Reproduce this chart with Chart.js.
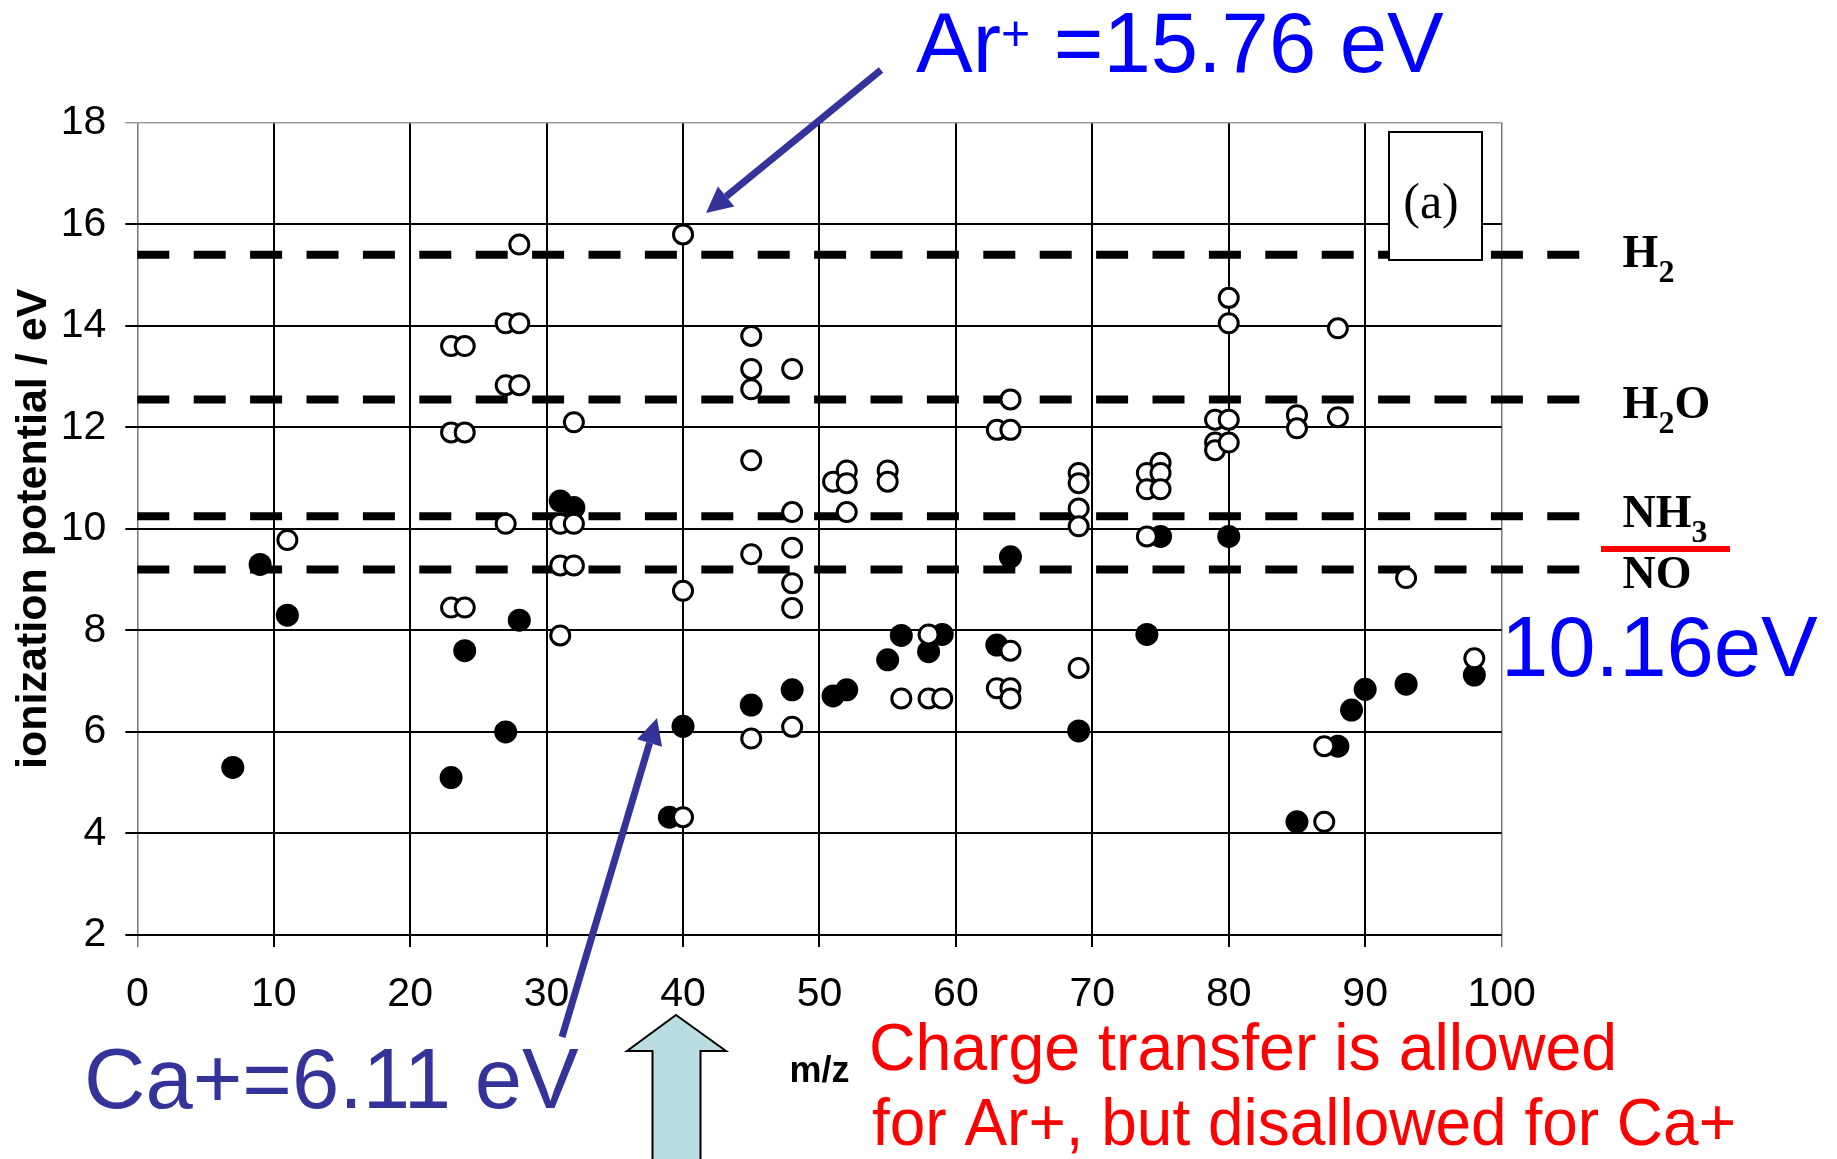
<!DOCTYPE html>
<html>
<head>
<meta charset="utf-8">
<title>Ionization potential vs m/z</title>
<script src="https://cdn.jsdelivr.net/npm/chart.js@4.4.1/dist/chart.umd.min.js"></script>
<style>
  html, body { margin: 0; padding: 0; background: #fff; }
  #wrap { width: 1837px; height: 1159px; position: relative; }
</style>
</head>
<body>
<div id="wrap"><canvas id="myChart"></canvas></div>
<script>
const SANS = "'Liberation Sans', Arial, Helvetica, sans-serif";
const SERIF = "'Liberation Serif', 'Times New Roman', serif";

// ------------------------------------------------------------------
// DATA
// filled circles: elements
const elementMz = [7, 9, 11, 23, 24, 27, 28, 31, 32, 39, 40, 45, 48, 51, 52, 55, 56, 58, 59,
  63, 64, 69, 74, 75, 80, 85, 88, 89, 90, 93, 98];
const elementIP = [5.3, 9.3, 8.3, 5.1, 7.6, 6.0, 8.2, 10.55, 10.42, 4.32, 6.11, 6.53, 6.83, 6.71, 6.83,
  7.42, 7.9, 7.58, 7.92, 7.71, 9.45, 6.02, 7.92, 9.85, 9.85, 4.23, 5.72, 6.43, 6.84, 6.94, 7.12];

// open circles: interfering ions
const openMz = [11,
  23, 23, 23, 24, 24, 24,
  27, 27, 27, 28, 28, 28,
  31, 31, 31, 32, 32, 32,
  40, 40, 40,
  45, 45, 45, 45, 45, 45,
  48, 48, 48, 48, 48, 48,
  51, 52, 52, 52, 55, 55, 56, 58, 58, 59,
  63, 63, 64, 64, 64, 64, 64,
  69, 69, 69, 69, 69,
  74, 74, 74, 75, 75, 75,
  79, 79, 79, 80, 80, 80, 80,
  85, 85, 87, 87, 88, 88, 93, 98];
const openIP = [9.78,
  13.6, 11.9, 8.45, 13.6, 11.9, 8.45,
  14.05, 12.83, 10.1, 15.6, 14.05, 12.83,
  10.1, 9.28, 7.9, 12.1, 10.1, 9.28,
  15.8, 8.78, 4.32,
  13.8, 13.15, 12.75, 11.35, 9.5, 5.87,
  13.15, 10.33, 9.63, 8.93, 8.44, 6.1,
  10.93, 11.15, 10.9, 10.33, 11.15, 10.93, 6.66, 7.92, 6.66, 6.66,
  11.95, 6.86, 12.55, 11.95, 7.6, 6.86, 6.66,
  11.1, 10.9, 10.4, 10.05, 7.26,
  11.1, 10.78, 9.85, 11.3, 11.1, 10.78,
  12.15, 11.7, 11.55, 14.55, 14.05, 12.15, 11.7,
  12.24, 11.98, 5.72, 4.23, 13.95, 12.2, 9.03, 7.45];

// dashed reference gases
const gasIP = [15.4, 12.55, 10.25, 9.2];
const gasMain = ['H', 'H', 'NH', 'NO'];
const gasSub = ['2', '2', '3', ''];
const gasTail = ['', 'O', '', ''];
const gasShift = [-3, 4, -4, 4];

const xTicks = [0, 10, 20, 30, 40, 50, 60, 70, 80, 90, 100];
const yTicks = [2, 4, 6, 8, 10, 12, 14, 16, 18];
// ------------------------------------------------------------------


// ------------------------------------------------------------------
// HELPERS
function drawArrow(ctx, x1, y1, x2, y2, color, lineW, headLen, headW) {
  const ang = Math.atan2(y2 - y1, x2 - x1);
  const bx = x2 - headLen * Math.cos(ang);
  const by = y2 - headLen * Math.sin(ang);
  ctx.save();
  ctx.strokeStyle = color;
  ctx.fillStyle = color;
  ctx.lineWidth = lineW;
  ctx.beginPath();
  ctx.moveTo(x1, y1);
  ctx.lineTo(bx, by);
  ctx.stroke();
  ctx.beginPath();
  ctx.moveTo(x2, y2);
  ctx.lineTo(bx + headW / 2 * Math.sin(ang), by - headW / 2 * Math.cos(ang));
  ctx.lineTo(bx - headW / 2 * Math.sin(ang), by + headW / 2 * Math.cos(ang));
  ctx.closePath();
  ctx.fill();
  ctx.restore();
}

const annotations = {
  id: 'annotations',
  beforeDatasetsDraw(chart) {
    const { ctx, scales: { x, y } } = chart;
    ctx.save();

    // gas ionization potentials, dashed
    ctx.strokeStyle = '#000';
    ctx.lineWidth = 8;
    ctx.setLineDash([32, 24.4]);
    gasIP.forEach(ip => {
      const py = y.getPixelForValue(ip);
      ctx.beginPath();
      ctx.moveTo(x.getPixelForValue(0), py);
      ctx.lineTo(x.right + 80, py);
      ctx.stroke();
    });
    ctx.setLineDash([]);

    // labels with subscripts
    ctx.fillStyle = '#000';
    ctx.textBaseline = 'alphabetic';
    ctx.textAlign = 'left';
    gasIP.forEach((ip, i) => {
      const base = y.getPixelForValue(ip) + gasShift[i] + 15;
      let px = x.right + 121;
      ctx.font = `bold 46px ${SERIF}`;
      ctx.fillText(gasMain[i], px, base);
      px += ctx.measureText(gasMain[i]).width;
      if (gasSub[i]) {
        ctx.font = `bold 32px ${SERIF}`;
        ctx.fillText(gasSub[i], px, base + 15);
        px += ctx.measureText(gasSub[i]).width;
      }
      if (gasTail[i]) {
        ctx.font = `bold 46px ${SERIF}`;
        ctx.fillText(gasTail[i], px, base);
      }
    });

    // (a) panel box
    ctx.fillStyle = '#fff';
    ctx.fillRect(1389, 132, 93, 128);
    ctx.strokeStyle = '#000';
    ctx.lineWidth = 2;
    ctx.strokeRect(1389, 132, 93, 128);
    ctx.fillStyle = '#000';
    ctx.font = `50px ${SERIF}`;
    ctx.textAlign = 'center';
    ctx.textBaseline = 'middle';
    ctx.fillText('(a)', 1431, 205);
    ctx.restore();
  },
  afterDraw(chart) {
    const { ctx } = chart;
    ctx.save();
    ctx.textAlign = 'left';
    ctx.textBaseline = 'alphabetic';

    // Ar+ label
    ctx.fillStyle = '#0000ff';
    ctx.font = `85px ${SANS}`;
    let px = 916;
    ctx.fillText('Ar', px, 72);
    px += ctx.measureText('Ar').width;
    ctx.font = `50px ${SANS}`;
    ctx.fillText('+', px, 50);
    px += ctx.measureText('+').width;
    ctx.font = `85px ${SANS}`;
    ctx.fillText(' =15.76 eV', px, 72);

    // NH3 value
    ctx.fillText('10.16eV', 1501, 676);
    ctx.strokeStyle = '#ff0000';
    ctx.lineWidth = 6;
    ctx.beginPath();
    ctx.moveTo(1601, 549);
    ctx.lineTo(1730, 549);
    ctx.stroke();

    // Ca+ label
    ctx.fillStyle = '#333399';
    ctx.font = `85px ${SANS}`;
    ctx.fillText('Ca+=6.11 eV', 84, 1108, 497);

    // red note
    ctx.fillStyle = '#ff0000';
    ctx.font = `66px ${SANS}`;
    ctx.fillText('Charge transfer is allowed', 869, 1070, 748);
    ctx.fillText('for Ar+, but disallowed for Ca+', 872, 1145, 864);

    // arrows
    drawArrow(ctx, 881, 70, 706, 213, '#333399', 7, 26, 26);
    drawArrow(ctx, 562, 1037, 657, 718, '#333399', 7, 26, 26);

    // block arrow under m/z = 40
    ctx.fillStyle = '#b9dde0';
    ctx.strokeStyle = '#000';
    ctx.lineWidth = 2;
    ctx.beginPath();
    ctx.moveTo(676, 1015);
    ctx.lineTo(726, 1051);
    ctx.lineTo(700.5, 1051);
    ctx.lineTo(700.5, 1162);
    ctx.lineTo(652.5, 1162);
    ctx.lineTo(652.5, 1051);
    ctx.lineTo(627, 1051);
    ctx.closePath();
    ctx.fill();
    ctx.stroke();
    ctx.restore();
  }
};
// ------------------------------------------------------------------


// ------------------------------------------------------------------
// CHART
const ctx = document.getElementById('myChart');

const openData = openMz.map((m, i) => ({ x: m, y: openIP[i] }));
const elementData = elementMz.map((m, i) => ({ x: m, y: elementIP[i] }));

const config = {
  type: 'scatter',
  data: {
    datasets: [{
      data: openData,
      pointStyle: 'circle',
      pointRadius: 9.5,
      pointBorderWidth: 3,
      pointBackgroundColor: '#fff',
      pointBorderColor: '#000',
    }, {
      data: elementData,
      pointStyle: 'circle',
      pointRadius: 11.5,
      pointBorderWidth: 0,
      pointBackgroundColor: '#000',
      pointBorderColor: '#000',
    }],
  },
  options: {
    responsive: true,
    maintainAspectRatio: false,
    animation: false,
    layout: { padding: { top: 122.7, right: 335.4, bottom: 0, left: 0 } },
    plugins: {
      legend: { display: false },
      tooltip: { enabled: false },
    },
    scales: {
      x: {
        type: 'linear',
        min: xTicks[0],
        max: xTicks[xTicks.length - 1],
        afterBuildTicks: scale => { scale.ticks = xTicks.map(v => ({ value: v })); },
        afterFit: scale => { scale.height = 224; },
        ticks: {
          color: '#000',
          font: { family: SANS, size: 41 },
          padding: 23,
          maxRotation: 0,
          autoSkip: false,
        },
        grid: {
          color: c => (c.tick && (c.tick.value === 0 || c.tick.value === 100)) ? '#777' : '#000',
          lineWidth: c => (c.tick && (c.tick.value === 0 || c.tick.value === 100)) ? 1.5 : 2,
          tickLength: 12,
        },
        border: { display: false },
        title: {
          display: true,
          text: 'm/z',
          color: '#000',
          font: { family: SANS, size: 36, weight: 'bold' },
          padding: { top: 0, bottom: 65 },
        },
      },
      y: {
        type: 'linear',
        min: yTicks[0],
        max: yTicks[yTicks.length - 1],
        afterBuildTicks: scale => { scale.ticks = yTicks.map(v => ({ value: v })); },
        afterFit: scale => { scale.width = 137.3; },
        ticks: {
          color: '#000',
          font: { family: SANS, size: 41 },
          padding: 19,
        },
        grid: {
          color: c => (c.tick && c.tick.value === 18) ? '#999' : '#000',
          lineWidth: c => (c.tick && c.tick.value === 18) ? 1.5 : 2,
          tickLength: 12,
        },
        border: { display: false },
        title: {
          display: true,
          text: 'ionization potential / eV',
          color: '#000',
          font: { family: SANS, size: 43, weight: 'bold' },
          padding: { top: 8, bottom: 0 },
        },
      },
    },
  },
  plugins: [annotations],
};

const myChart = new Chart(ctx, config);
// ------------------------------------------------------------------
</script>
</body>
</html>
